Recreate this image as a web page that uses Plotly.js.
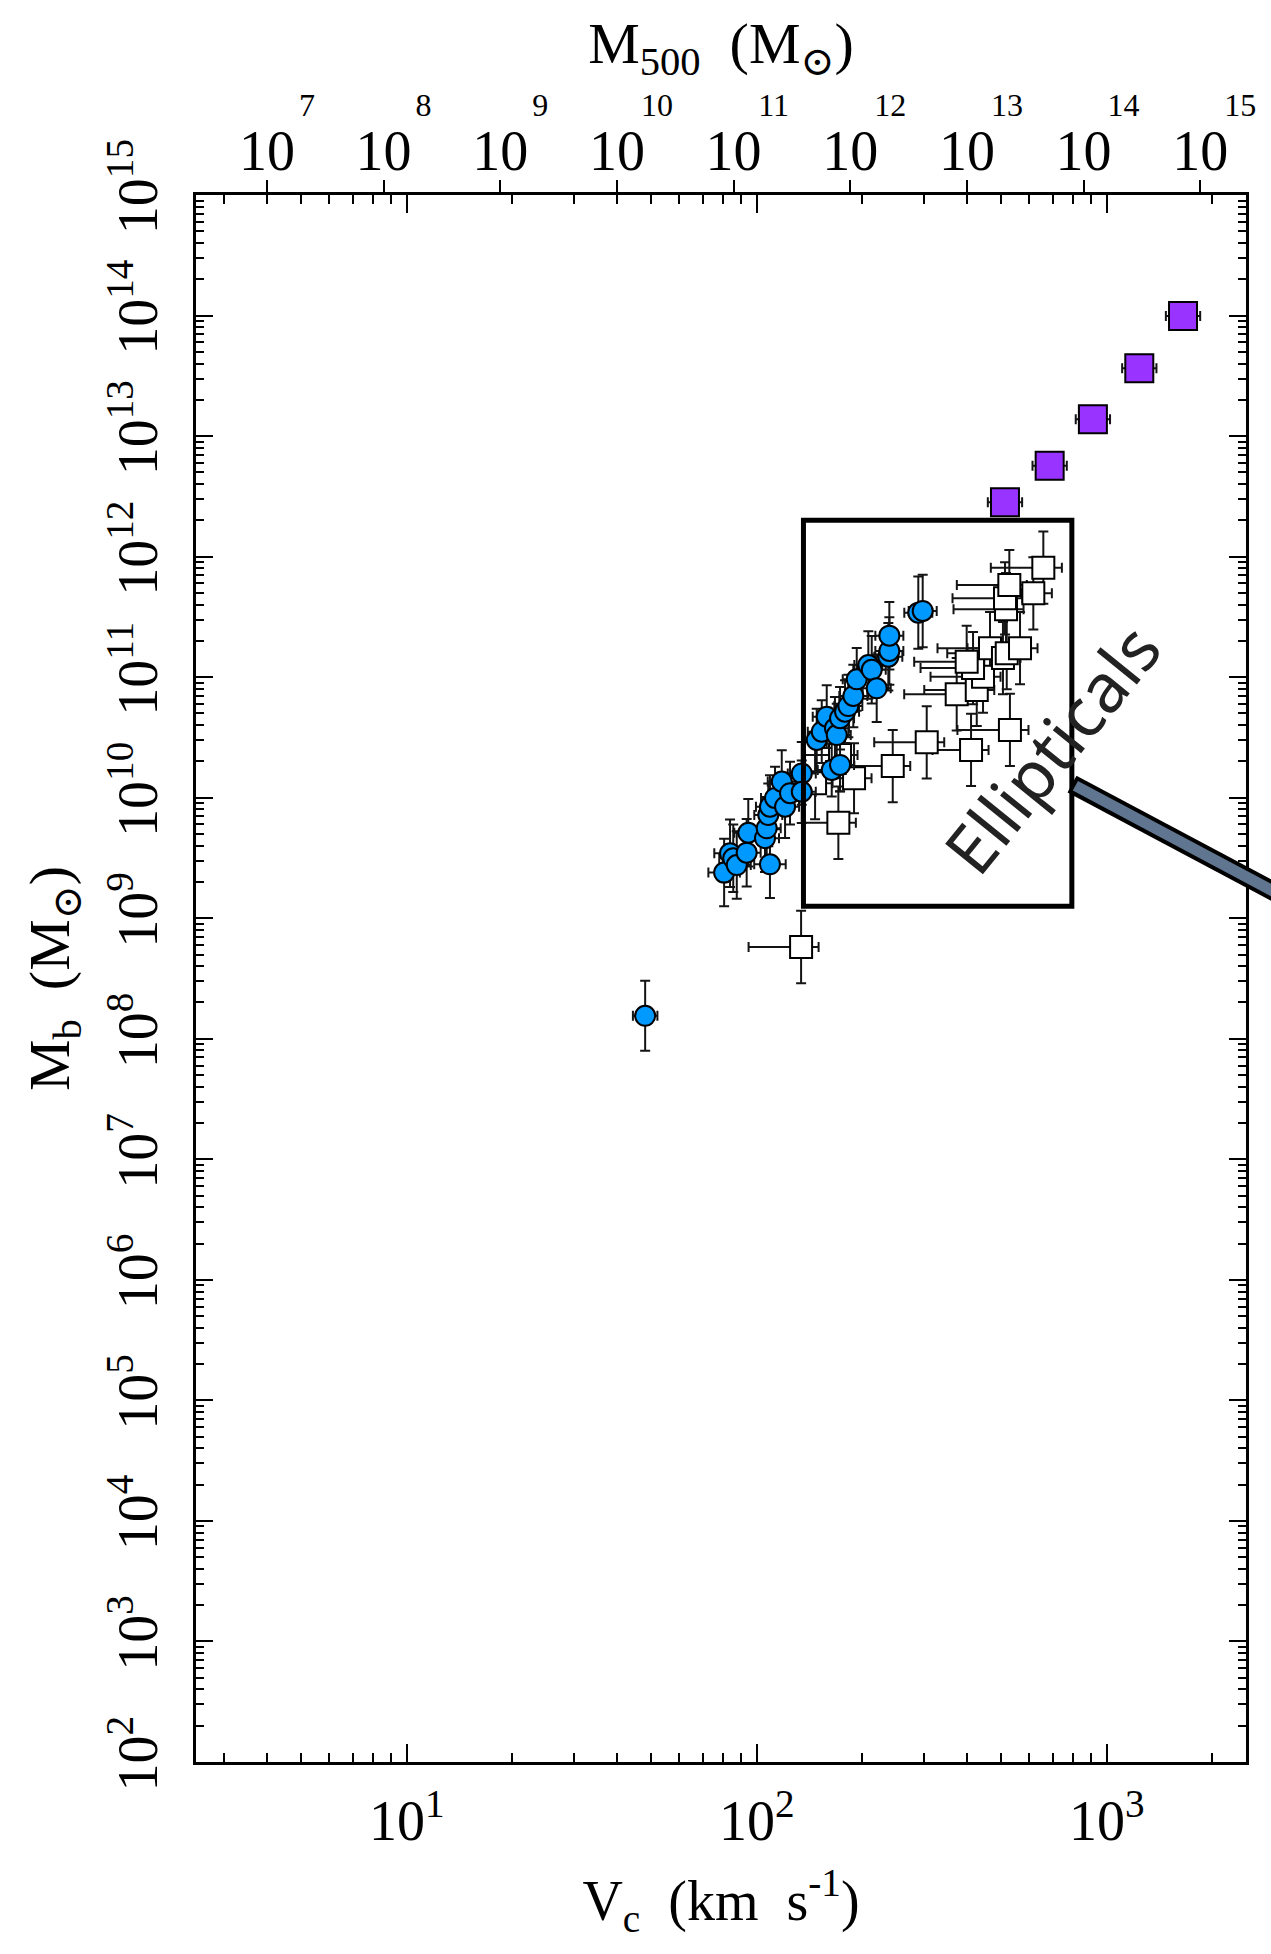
<!DOCTYPE html>
<html><head><meta charset="utf-8">
<script src="https://cdn.plot.ly/plotly-3.0.1.min.js"></script>
<style>html,body{margin:0;padding:0;background:#fff}</style>
</head><body>
<div id="chart" style="width:1271px;height:1954px"></div>
<script>
// ---------- data ----------
// Rotationally supported galaxies (blue circles)
const spiralV = [48, 80.7, 83.9, 85.7, 87.7, 93.6, 94.6, 109.1, 105.6, 106.8, 107.9, 109.1, 112.8, 117.9, 120.5, 124.5, 134.5, 134.5, 148.4, 153.4, 158.5, 167.3, 169.3, 173, 178.8, 182.7, 188.8, 193.1, 208.4, 213.1, 220.2, 237.7, 239.3, 239.3, 289.5, 298, 163.8, 173];
const spiralM = [1.55e8, 2.39e9, 3.46e9, 3.14e9, 2.76e9, 3.50e9, 5.12e9, 2.80e9, 4.61e9, 5.57e9, 7.19e9, 8.42e9, 9.94e9, 1.36e10, 8.42e9, 1.09e10, 1.59e10, 1.12e10, 3.01e10, 3.53e10, 4.70e10, 3.76e10, 3.31e10, 4.56e10, 5.17e10, 5.76e10, 6.98e10, 9.60e10, 1.26e11, 1.15e11, 8.08e10, 1.48e11, 1.65e11, 2.21e11, 3.43e11, 3.54e11, 1.70e10, 1.87e10];
const spiralMErrDex = [0.29, 0.28, 0.28, 0.28, 0.28, 0.28, 0.28, 0.28, 0.28, 0.26, 0.26, 0.26, 0.26, 0.26, 0.26, 0.26, 0.26, 0.26, 0.26, 0.26, 0.26, 0.26, 0.26, 0.26, 0.26, 0.26, 0.26, 0.26, 0.28, 0.28, 0.28, 0.28, 0.28, 0.28, 0.30, 0.30, 0.22, 0.22];
const spiralVErrDex = [0.035, 0.045, 0.045, 0.04, 0.04, 0.04, 0.04, 0.045, 0.04, 0.04, 0.04, 0.04, 0.04, 0.04, 0.04, 0.04, 0.04, 0.04, 0.04, 0.04, 0.04, 0.04, 0.04, 0.04, 0.04, 0.04, 0.04, 0.04, 0.04, 0.04, 0.04, 0.04, 0.04, 0.04, 0.04, 0.04, 0.04, 0.04];

// Ellipticals (open squares)
const ellipV = [133.9, 171.1, 146.8, 189.7, 173.0, 244.7, 306, 409.6, 529, 372.7, 425.3, 443.2, 415, 398, 464, 505.3, 518, 565.3, 515.6, 512.2, 526.9, 617, 659];
const ellipM = [5.77e8, 6.20e9, 1.32e10, 1.45e10, 2.26e10, 1.83e10, 2.88e10, 2.49e10, 3.65e10, 7.21e10, 7.83e10, 1.01e11, 1.19e11, 1.34e11, 1.74e11, 1.44e11, 1.58e11, 1.74e11, 3.66e11, 4.51e11, 5.82e11, 4.96e11, 8.09e11];
const ellipMErrDex = [0.30, 0.30, 0.30, 0.29, 0.30, 0.30, 0.30, 0.30, 0.30, 0.30, 0.30, 0.30, 0.30, 0.30, 0.30, 0.30, 0.30, 0.30, 0.30, 0.30, 0.29, 0.30, 0.30];
const ellipVErrMinusDex = [0.15, 0.10, 0.10, 0.10, 0.10, 0.11, 0.15, 0.11, 0.15, 0.15, 0.15, 0.15, 0.15, 0.15, 0.15, 0.12, 0.17, 0.15, 0.15, 0.15, 0.15, 0.035, 0.15];
const ellipVErrPlusDex = [0.05, 0.05, 0.05, 0.05, 0.05, 0.05, 0.05, 0.05, 0.053, 0.05, 0.05, 0.05, 0.05, 0.05, 0.05, 0.05, 0.05, 0.05, 0.05, 0.05, 0.05, 0.053, 0.053];

// Galaxy clusters (purple squares)
const clusterV = [512, 687, 913, 1239, 1652];
const clusterM = [2.82e12, 5.68e12, 1.38e13, 3.65e13, 9.9e13];
const clusterVErrDex = [0.049, 0.049, 0.049, 0.049, 0.049];

// Axis ticks
const vTickVals = [10, 100, 1000];
const vTickText = ['10<sup>1</sup>', '10<sup>2</sup>', '10<sup>3</sup>'];
const mbExponents = [2, 3, 4, 5, 6, 7, 8, 9, 10, 11, 12, 13, 14, 15];
const m500Exponents = [7, 8, 9, 10, 11, 12, 13, 14, 15];

// Axis ranges (log10)
const vRangeLog = [Math.log10(2.5), Math.log10(2500)];
const mbRangeLog = [2, 15];
const m500RangeLog = [6.392, 15.392];

// "Ellipticals" selection box (data units)
const boxV = [136, 795];
const boxM = [1.26e9, 2.0e12];

// ---------- helpers ----------
const up = (v, d) => v.map((x, i) => x * (Math.pow(10, d[i]) - 1));
const dn = (v, d) => v.map((x, i) => x * (1 - Math.pow(10, -d[i])));

const FONT = 'Liberation Serif, DejaVu Serif, serif';
const EB = {type: 'data', symmetric: false, color: '#141414', thickness: 2, width: 5};

const traces = [
  {
    type: 'scatter', mode: 'markers', name: 'Ellipticals',
    x: ellipV, y: ellipM,
    marker: {symbol: 'square', size: 22, color: '#ffffff', line: {color: '#000', width: 2}},
    error_x: Object.assign({}, EB, {array: up(ellipV, ellipVErrPlusDex), arrayminus: dn(ellipV, ellipVErrMinusDex)}),
    error_y: Object.assign({}, EB, {array: up(ellipM, ellipMErrDex), arrayminus: dn(ellipM, ellipMErrDex)})
  },
  {
    type: 'scatter', mode: 'markers', name: 'Spirals',
    x: spiralV, y: spiralM,
    marker: {symbol: 'circle', size: 20, color: '#0099ff', line: {color: '#000', width: 2}},
    error_x: Object.assign({}, EB, {array: up(spiralV, spiralVErrDex), arrayminus: dn(spiralV, spiralVErrDex)}),
    error_y: Object.assign({}, EB, {array: up(spiralM, spiralMErrDex), arrayminus: dn(spiralM, spiralMErrDex)})
  },
  {
    type: 'scatter', mode: 'markers', name: 'Clusters',
    x: clusterV, y: clusterM,
    marker: {symbol: 'square', size: 28, color: '#9933ff', line: {color: '#000', width: 2}},
    error_x: Object.assign({}, EB, {array: up(clusterV, clusterVErrDex), arrayminus: dn(clusterV, clusterVErrDex)})
  },
  {type: 'scatter', mode: 'markers', x: [], y: [], xaxis: 'x2', yaxis: 'y', showlegend: false, hoverinfo: 'skip'},
  {type: 'scatter', mode: 'markers', x: [], y: [], xaxis: 'x3', yaxis: 'y', showlegend: false, hoverinfo: 'skip'}
];

const minorX = {dtick: 'D1', ticks: 'inside', ticklen: 9, tickwidth: 2, tickcolor: '#000', showgrid: false};
const minorY = {dtick: 'D1', ticks: 'inside', ticklen: 8, tickwidth: 2, tickcolor: '#000', showgrid: false};

const layout = {
  width: 1271, height: 1954, autosize: false,
  margin: {l: 196, r: 25, t: 195, b: 192, pad: 0},
  paper_bgcolor: '#fff', plot_bgcolor: '#fff',
  showlegend: false,
  font: {family: FONT, color: '#000'},
  xaxis: {
    type: 'log', range: vRangeLog, autorange: false,
    tickmode: 'array', tickvals: vTickVals, ticktext: vTickText,
    ticks: 'inside', ticklen: 18, tickwidth: 2, tickcolor: '#000',
    minor: minorX,
    showline: true, linewidth: 3, linecolor: '#000', mirror: 'ticks',
    showgrid: false, zeroline: false,
    tickfont: {family: FONT, size: 56, color: '#000'},
    ticklabelstandoff: 8,
    title: {text: 'V<sub>c</sub>  (km  s<sup>-1</sup>)', font: {family: FONT, size: 56, color: '#000'}, standoff: 30}
  },
  xaxis2: {
    type: 'log', overlaying: 'x', side: 'top', anchor: 'y',
    range: m500RangeLog, autorange: false,
    tickmode: 'array', tickvals: m500Exponents.map(e => Math.pow(10, e)), ticktext: m500Exponents.map(() => '10'),
    ticks: 'outside', ticklen: 14, tickwidth: 2, tickcolor: '#000',
    showline: false, showgrid: false, zeroline: false,
    tickfont: {family: FONT, size: 56, color: '#000'},
    ticklabelstandoff: -12
  },
  xaxis3: {
    type: 'log', overlaying: 'x', side: 'top', anchor: 'y',
    range: m500RangeLog, autorange: false,
    tickmode: 'array', tickvals: m500Exponents.map(e => Math.pow(10, e)), ticktext: m500Exponents.map(e => String(e)),
    ticks: '', showline: false, showgrid: false, zeroline: false,
    tickfont: {family: FONT, size: 32, color: '#000'},
    ticklabelshift: 40, ticklabelstandoff: 72,
    title: {text: 'M<sub>500</sub>  (M<sub>⊙</sub>)', font: {family: FONT, size: 58, color: '#000'}, standoff: 4}
  },
  yaxis: {
    type: 'log', range: mbRangeLog, autorange: false,
    tickmode: 'array', tickvals: mbExponents.map(e => Math.pow(10, e)), ticktext: mbExponents.map(e => '10<sup>' + e + '</sup>'),
    tickangle: -90,
    ticks: 'inside', ticklen: 17, tickwidth: 2, tickcolor: '#000',
    minor: minorY,
    showline: true, linewidth: 3, linecolor: '#000', mirror: 'ticks',
    showgrid: false, zeroline: false,
    tickfont: {family: FONT, size: 56, color: '#000'},
    ticklabelstandoff: 14,
    title: {text: 'M<sub>b</sub>  (M<sub>⊙</sub>)', font: {family: FONT, size: 58, color: '#000'}, standoff: 10}
  },
  shapes: [
    {type: 'rect', xref: 'x', yref: 'y', layer: 'above',
     x0: boxV[0], x1: boxV[1], y0: boxM[0], y1: boxM[1],
     line: {color: '#000', width: 5}, fillcolor: 'rgba(0,0,0,0)'},
    {type: 'line', xref: 'paper', yref: 'paper', layer: 'above',
     x0: 0.8343, y0: 0.6241, x1: 1.045, y1: 0.5489, line: {color: '#000', width: 19}},
    {type: 'line', xref: 'paper', yref: 'paper', layer: 'above',
     x0: 0.8375, y0: 0.6230, x1: 1.045, y1: 0.5489, line: {color: '#607690', width: 11}}
  ],
  annotations: [
    {xref: 'paper', yref: 'paper', x: 0.8143, y: 0.6466, text: 'Ellipticals', showarrow: false,
     textangle: -51, xanchor: 'center', yanchor: 'middle',
     font: {family: 'Noto Sans, Open Sans, sans-serif', size: 68, color: '#222'}}
  ]
};

Plotly.newPlot('chart', traces, layout, {displayModeBar: false, staticPlot: true});
</script>
</body></html>
